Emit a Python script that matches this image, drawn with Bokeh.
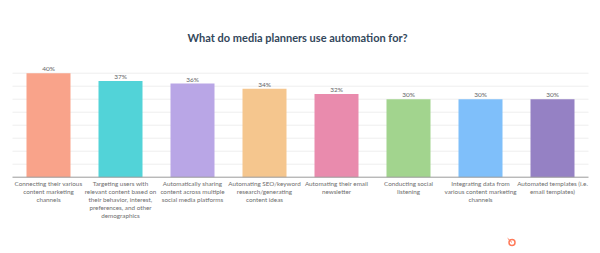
from bokeh.plotting import figure
from bokeh.models import Range1d, ColumnDataSource
from bokeh.core.properties import value
from bokeh.embed import file_html
from bokeh.resources import INLINE

title_text = "What do media planners use automation for?"
categories = [
    "Connecting their various\ncontent marketing\nchannels",
    "Targeting users with\nrelevant content based on\ntheir behavior, interest,\npreferences, and other\ndemographics",
    "Automatically sharing\ncontent across multiple\nsocial media platforms",
    "Automating SEO/keyword\nresearch/generating\ncontent ideas",
    "Automating their email\nnewsletter",
    "Conducting social\nlistening",
    "Integrating data from\nvarious content marketing\nchannels",
    "Automated templates (i.e.\nemail templates)",
]
values = [40, 37, 36, 34, 32, 30, 30, 30]
value_labels = ["40%", "37%", "36%", "34%", "32%", "30%", "30%", "30%"]
colors = ["#F9A38A", "#52D3D8", "#B9A6E6", "#F5C68E", "#E98BAD",
          "#A2D48E", "#7FBFFA", "#9581C4"]
grid_ticks = [5, 10, 15, 20, 25, 30, 35, 40]

W, H = 600, 253
left_px, unit_px = 12.0, 72.0
base_px, per_pct = 176.7, 2.6

x0 = -left_px / unit_px
x1 = (W - left_px) / unit_px
y1 = base_px / per_pct
y0 = (base_px - H) / per_pct

p = figure(width=W, height=H, output_backend="svg", toolbar_location=None,
           x_range=Range1d(x0, x1), y_range=Range1d(y0, y1),
           min_border=0, min_border_left=0, min_border_right=0,
           min_border_top=0, min_border_bottom=0)
p.axis.visible = False
p.grid.visible = False
p.outline_line_color = None
p.background_fill_color = "white"
p.border_fill_color = "white"

n = len(values)
xs = [i + 0.5 for i in range(n)]

# gridlines
p.segment(x0=[0] * len(grid_ticks), x1=[n] * len(grid_ticks), y0=grid_ticks, y1=grid_ticks,
          line_color="#EEEEEE", line_width=1)

src = ColumnDataSource(dict(x=xs, top=values, color=colors, lab=value_labels, cat=categories))
p.vbar(x="x", top="top", bottom=0, width=44 / unit_px, fill_color="color",
       line_color=None, source=src)

# axis baseline
p.segment(x0=[0], x1=[n], y0=[0], y1=[0], line_color="#9A9A9A", line_width=1)

p.text(x="x", y="top", text="lab", source=src, text_align="center",
       text_baseline="bottom", y_offset=-1, text_font=value("Lato"),
       text_font_size="6.5px", text_color="#666666")

p.text(x="x", y=0, text="cat", source=src, text_align="center",
       text_baseline="top", y_offset=3, text_font=value("Lato"),
       text_font_size="6.3px", text_color="#6E6E6E", text_line_height=1.15)

p.text(x=[n / 2 - 0.04], y=[(base_px - 37) / per_pct], text=[title_text],
       text_align="center", text_baseline="middle", text_font=value("Lato"),
       text_font_style="bold", text_font_size="11px", text_color="#33475B")

# small logo mark
lx, ly = (511.5 - left_px) / unit_px, (base_px - 242) / per_pct
p.scatter(x=[lx], y=[ly], size=6, marker="circle", fill_color=None,
          line_color="#FF7A59", line_width=1.5)
p.segment(x0=[lx - 0.06], y0=[ly + 1.6], x1=[lx], y1=[ly], line_color="#FF7A59", line_width=1)

open("out.html", "w").write(file_html(p, INLINE))
